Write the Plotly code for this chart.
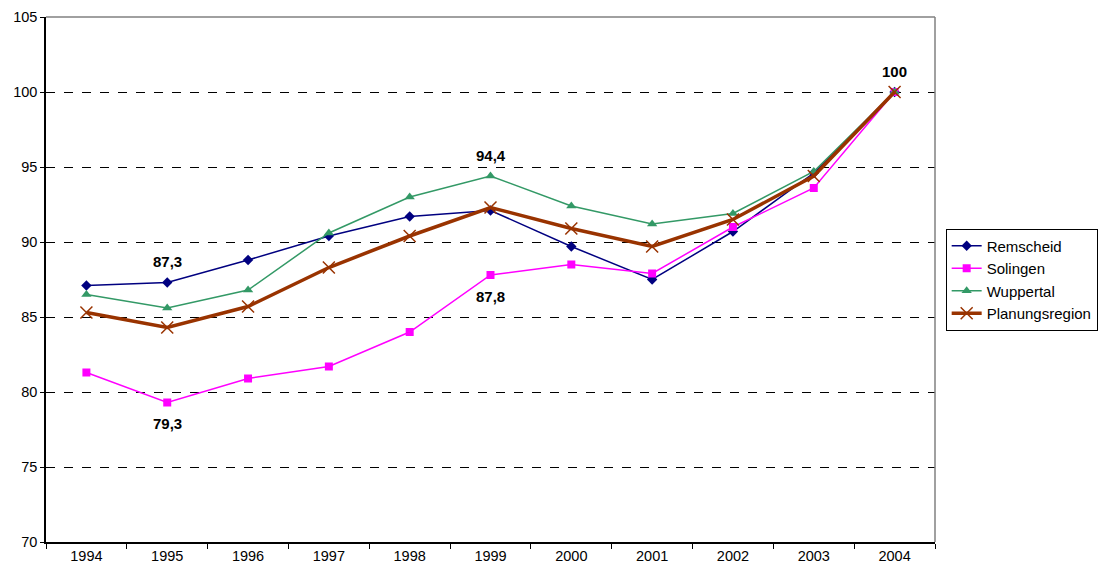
import plotly.graph_objects as go

# ========== Daten (Index, 2004 = 100) ==========
YEARS = ["1994", "1995", "1996", "1997", "1998", "1999", "2000", "2001", "2002", "2003", "2004"]
REMSCHEID = [87.1, 87.3, 88.8, 90.4, 91.7, 92.1, 89.7, 87.5, 90.7, 94.6, 100]
SOLINGEN = [81.3, 79.3, 80.9, 81.7, 84.0, 87.8, 88.5, 87.9, 91.0, 93.6, 100]
WUPPERTAL = [86.5, 85.6, 86.8, 90.6, 93.0, 94.4, 92.4, 91.2, 91.9, 94.7, 100]
PLANUNGSREGION = [85.3, 84.3, 85.7, 88.3, 90.4, 92.3, 90.9, 89.7, 91.5, 94.4, 100]

# Beschriftete Punkte: (Reihe, Jahr-Index, oben/unten)
LABELS = [
    (REMSCHEID, 1, "above"),
    (SOLINGEN, 1, "below"),
    (WUPPERTAL, 5, "above"),
    (SOLINGEN, 5, "below"),
    (PLANUNGSREGION, 10, "above"),
]

FONT = "Liberation Sans, Arial, sans-serif"

fig = go.Figure()

fig.add_trace(go.Scatter(
    x=YEARS, y=REMSCHEID, name="Remscheid", mode="lines+markers",
    line=dict(color="#000080", width=1.5),
    marker=dict(symbol="diamond", size=8, color="#000080"),
))
fig.add_trace(go.Scatter(
    x=YEARS, y=SOLINGEN, name="Solingen", mode="lines+markers",
    line=dict(color="#FF00FF", width=1.5),
    marker=dict(symbol="square", size=8, color="#FF00FF"),
))
fig.add_trace(go.Scatter(
    x=YEARS, y=WUPPERTAL, name="Wuppertal", mode="lines+markers",
    line=dict(color="#339966", width=1.5),
    marker=dict(symbol="triangle-up", size=9, color="#339966"),
))
fig.add_trace(go.Scatter(
    x=YEARS, y=PLANUNGSREGION, name="Planungsregion", mode="lines+markers",
    line=dict(color="#993300", width=3.5),
    marker=dict(symbol="x-thin-open", size=12, line=dict(color="#993300", width=1.5)),
))

# Datenbeschriftungen (Komma als Dezimaltrenner); x als Kategorie-Index
for series, idx, pos in LABELS:
    val = series[idx]
    txt = f"{val:.1f}".replace(".", ",") if val != 100 else "100"
    fig.add_annotation(
        x=idx, y=val, text=f"<b>{txt}</b>", showarrow=False,
        yshift=21 if pos == "above" else -21,
        font=dict(family=FONT, size=15, color="black"),
    )

# grauer Rahmen oben und rechts
fig.add_shape(type="line", xref="paper", yref="paper", x0=0, x1=1, y0=1, y1=1,
              line=dict(color="#808080", width=1.5), layer="above")
fig.add_shape(type="line", xref="paper", yref="paper", x0=1, x1=1, y0=0, y1=1,
              line=dict(color="#808080", width=1.5), layer="above")

# Seite hat 8px Rand -> Figur etwas kleiner
fig.update_layout(
    width=1099, height=563,
    margin=dict(l=38, r=159, t=9, b=29),
    paper_bgcolor="white", plot_bgcolor="white",
    font=dict(family=FONT, size=14.5, color="black"),
    showlegend=True,
    legend=dict(
        x=1.012, y=0.5, xanchor="left", yanchor="middle",
        bordercolor="black", borderwidth=1, bgcolor="white",
        font=dict(family=FONT, size=15, color="black"),
        tracegroupgap=0, itemwidth=30,
    ),
    xaxis=dict(
        type="category", range=[-0.5, 10.5], showgrid=False, showline=True,
        linecolor="black", linewidth=1.5, automargin=False,
        ticks="outside", tickson="boundaries", ticklen=5, tickcolor="black",
        tickfont=dict(size=14.5), tickangle=0, zeroline=False,
    ),
    yaxis=dict(
        range=[70, 105], dtick=5, showline=True, linecolor="black", linewidth=1.5,
        ticks="outside", ticklen=4, tickcolor="black", automargin=False,
        showgrid=True, gridcolor="black", griddash="dash", gridwidth=1,
        zeroline=False, tickfont=dict(size=14.5),
    ),
)

fig.write_html("out.html")
